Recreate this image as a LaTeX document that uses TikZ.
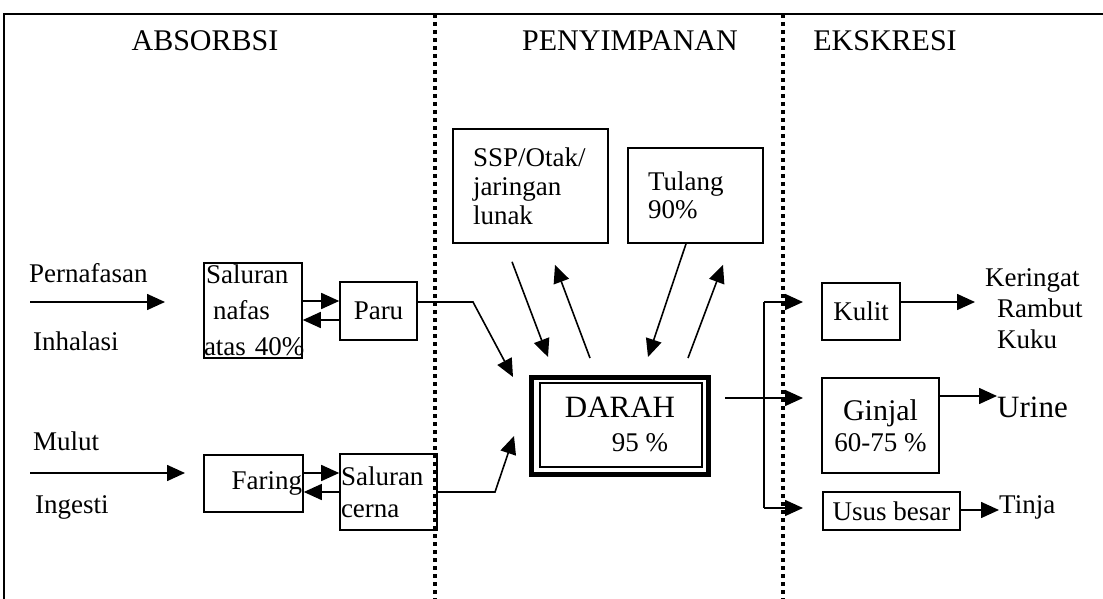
\documentclass[tikz,border=0pt]{standalone}
\usepackage{fontspec}
\setmainfont{Liberation Serif}
\usetikzlibrary{arrows.meta,calc}
\newcommand\myfs[2]{\fontsize{#1}{#2}\selectfont}
\tikzset{
  box/.style={draw, line width=1.6pt, inner sep=0pt, font=\myfs{27}{36}},
  arr/.style={line width=1.6pt, -{Triangle[length=18pt,width=16pt]}},
  ln/.style={line width=1.6pt},
  sepline/.style={line width=4pt, dash pattern=on 4pt off 4pt},
  lbl/.style={inner sep=0pt, font=\myfs{27}{31}},
  ttl/.style={inner sep=0pt, font=\myfs{30}{34}},
}
\begin{document}
\begin{tikzpicture}[x=1pt,y=-1pt]
\useasboundingbox (0,0) rectangle (1103,599);
% frame
\coordinate (fbl) at (4,599);
\coordinate (ftl) at (4,14);
\coordinate (ftr) at (1103,14);
\draw[ln] (fbl) -- (ftl) -- (ftr);
% separators
\coordinate (s1t) at (435,14); \coordinate (s1b) at (435,599);
\coordinate (s2t) at (783,14); \coordinate (s2b) at (783,599);
\draw[sepline] (s1t) -- (s1b);
\draw[sepline] (s2t) -- (s2b);
% titles
\node[ttl, anchor=base] (t1) at (205,51) {ABSORBSI};
\node[ttl, anchor=base] (t2) at (630,51) {PENYIMPANAN};
\node[ttl, anchor=base] (t3) at (885,51) {EKSKRESI};
% left labels
\node[lbl, anchor=base west] (pern) at (29,282) {Pernafasan};
\node[lbl, anchor=base west] (inh) at (33,350) {Inhalasi};
\node[lbl, anchor=base west] (mul) at (33,450) {Mulut};
\node[lbl, anchor=base west] (ing) at (35,513) {Ingesti};
% absorption boxes
\node[box, minimum width=98, minimum height=95, text width=98, align=left] (sn) at (253,310.5) {\hspace*{2pt}Saluran\\\hspace*{9pt}nafas\\\makebox[98pt][l]{atas 40\%}};
\node[box, minimum width=77, minimum height=58] (paru) at (378.5,311) {Paru};
\node[box, minimum width=99, minimum height=57, text width=97, align=right] (faring) at (253.5,483.5) {Faring};
\node[box, minimum width=97, minimum height=76, text width=95, align=left, font=\myfs{27}{32}] (sc) at (388.5,492) {Saluran\\cerna};
% storage
\node[box, minimum width=155, minimum height=114, text width=115, align=left, font=\myfs{27}{29}] (ssp) at (530.5,186) {SSP/Otak/\\jaringan\\lunak};
\node[box, minimum width=135, minimum height=95, text width=95, align=left, font=\myfs{27}{28}] (tulang) at (695.5,195.5) {Tulang\\90\%};
\node[draw, line width=5pt, minimum width=177, minimum height=97, inner sep=0pt] (darah) at (620,426) {};
\draw[line width=1.4pt] ([shift={(11,8)}]darah.north west) rectangle ([shift={(-9,-10)}]darah.south east);
\node[lbl, anchor=base, font=\myfs{31}{34}] (darahT) at (620,417) {DARAH};
\node[lbl, anchor=base] (darahP) at (640,451) {95 \%};
% excretion
\node[box, minimum width=78, minimum height=57] (kulit) at (861,311.5) {Kulit};
\node[box, minimum width=117, minimum height=95, align=center, font=\myfs{27}{31}] (ginjal) at (880.5,425.5) {{\myfs{30}{31}Ginjal}\\60-75 \%};
\node[box, minimum width=137, minimum height=38] (usus) at (891.5,511) {Usus besar};
\node[lbl, anchor=west, align=left] (krk) at (985,309) {Keringat\\\hspace*{12pt}Rambut\\\hspace*{12pt}Kuku};
\node[lbl, anchor=base west, font=\myfs{31}{34}] (urine) at (997,417) {Urine};
\node[lbl, anchor=base west] (tinja) at (999,513) {Tinja};
% input arrows
\coordinate (p0) at (30,302); \coordinate (p1) at (165,302);
\draw[arr] (p0) -- (p1);
\coordinate (m0) at (30,473); \coordinate (m1) at (185,473);
\draw[arr] (m0) -- (m1);
\draw[arr] (sn.east |- 0,301) -- (paru.west |- 0,301);
\draw[arr] (paru.west |- 0,320) -- (sn.east |- 0,320);
\draw[arr] (faring.east |- 0,473) -- (sc.west |- 0,473);
\draw[arr] (sc.west |- 0,492) -- (faring.east |- 0,492);
% to blood
\coordinate (pk) at (473,302);
\draw[arr] (paru.east |- pk) -- (pk) -- ([shift={(-16,2)}]darah.north west);
\coordinate (ck) at (495,492);
\draw[arr] (sc.east |- ck) -- (ck) -- ([shift={(-15,-41)}]darah.south west);
% storage exchange
\draw[arr] ([shift={(-18.5,18)}]ssp.south) -- ([shift={(-72,-18)}]darah.north);
\draw[arr] ([shift={(-30,-17)}]darah.north) -- ([shift={(24.5,21)}]ssp.south);
\draw[arr] ([shift={(-9.5,0)}]tulang.south) -- ([shift={(28,-18)}]darah.north);
\draw[arr] ([shift={(68,-17)}]darah.north) -- ([shift={(27.5,21)}]tulang.south);
% blood out
\coordinate (d0) at (725,398);
\coordinate (jm) at (764,398);
\coordinate (jt) at (764,302);
\coordinate (jb) at (764,508);
\coordinate (e1) at (803,302);
\coordinate (e2) at (803,398);
\coordinate (e3) at (803,508);
\draw[arr] (d0) -- (e2);
\draw[ln] (jt) -- (jb);
\draw[arr] (jt) -- (e1);
\draw[arr] (jb) -- (e3);
% excretion outputs
\coordinate (kk) at (975,302);
\draw[arr] (kulit.east |- kk) -- (kk);
\draw[arr] (ginjal.east |- 0,396) -- (urine.west |- 0,396);
\draw[arr] (usus.east |- 0,510) -- (tinja.west |- 0,510);
\end{tikzpicture}
\end{document}
